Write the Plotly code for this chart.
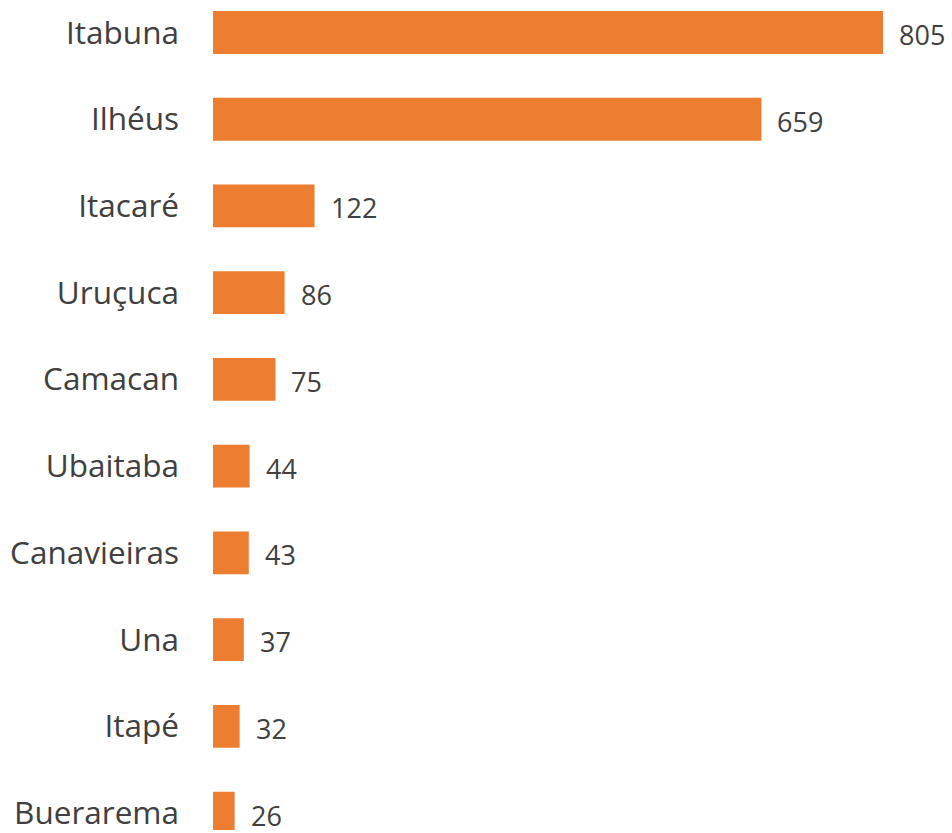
import plotly.graph_objects as go

# Municipalities and their counts, top to bottom
municipios = ["Itabuna", "Ilhéus", "Itacaré", "Uruçuca", "Camacan",
              "Ubaitaba", "Canavieiras", "Una", "Itapé", "Buerarema"]
valores = [805, 659, 122, 86, 75, 44, 43, 37, 32, 26]

BAR_COLOR = "#ED7D31"
TEXT_COLOR = "#404040"

fig = go.Figure(
    go.Bar(
        x=valores,
        y=municipios,
        orientation="h",
        marker=dict(color=BAR_COLOR, line=dict(width=0)),
        width=0.494,
        hoverinfo="skip",
    )
)

# Value labels just past the end of each bar
for m, v in zip(municipios, valores):
    fig.add_annotation(
        x=v, y=m, text=str(v), showarrow=False,
        xanchor="left", yanchor="middle", xshift=14, yshift=-2,
        font=dict(family="Open Sans", size=27, color=TEXT_COLOR),
    )

fig.update_layout(
    width=952, height=833,
    margin=dict(l=213, r=0, t=0, b=0),
    paper_bgcolor="white", plot_bgcolor="white",
    showlegend=False,
    bargap=0.5,
)
fig.update_xaxes(
    range=[0, 887.9], visible=False, showgrid=False, zeroline=False,
)
fig.update_yaxes(
    categoryorder="array", categoryarray=municipios,
    range=[9.195, -0.3745],
    showgrid=False, zeroline=False, showline=False, ticks="",
    ticklabelstandoff=33,
    tickfont=dict(family="Open Sans", size=31.5, color=TEXT_COLOR),
)

fig.write_html("out.html")
